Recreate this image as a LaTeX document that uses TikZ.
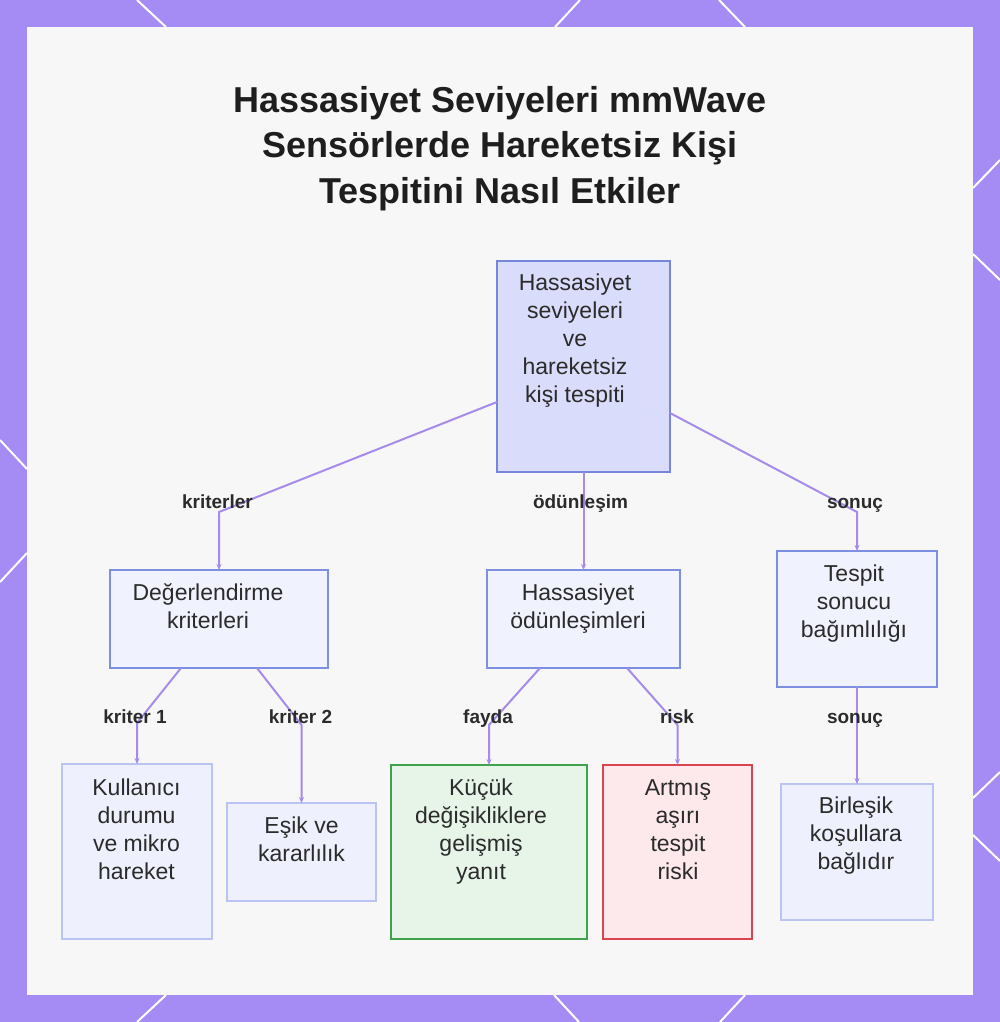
\documentclass[tikz,border=0pt]{standalone}
\usepackage{fontspec}
\setmainfont{Liberation Sans}
\usetikzlibrary{arrows.meta}
\definecolor{framec}{HTML}{A58CF5}
\definecolor{bgc}{HTML}{F7F7F8}
\definecolor{connc}{HTML}{A68BEA}
\definecolor{rootfill}{HTML}{D9DCFA}
\definecolor{rootdraw}{HTML}{7885DC}
\definecolor{midfill}{HTML}{F0F2FD}
\definecolor{middraw}{HTML}{7D8FE0}
\definecolor{leaffill}{HTML}{EEF1FD}
\definecolor{leafdraw}{HTML}{B9C4F3}
\definecolor{greenfill}{HTML}{E7F4E8}
\definecolor{greendraw}{HTML}{3FA34D}
\definecolor{pinkfill}{HTML}{FDE8EC}
\definecolor{pinkdraw}{HTML}{D84450}
\definecolor{txtc}{HTML}{2B2B2B}
\definecolor{titlec}{HTML}{1E1E1E}
\begin{document}
\begin{tikzpicture}[x=1pt,y=-1pt,
  boxbase/.style={rectangle, line width=2pt, inner sep=0pt, outer sep=0pt},
  rootbox/.style={boxbase, fill=rootfill, draw=rootdraw},
  midbox/.style={boxbase, fill=midfill, draw=middraw},
  leafbox/.style={boxbase, fill=leaffill, draw=leafdraw},
  greenbox/.style={boxbase, fill=greenfill, draw=greendraw},
  pinkbox/.style={boxbase, fill=pinkfill, draw=pinkdraw},
  txt/.style={anchor=north, inner sep=0pt, align=center, text=txtc, font=\fontsize{23}{28}\selectfont},
  elabel/.style={anchor=base, inner sep=0pt, text=txtc, font=\bfseries\fontsize{19}{22}\selectfont},
  conn/.style={draw=connc, line width=2pt, -{Stealth[length=6pt,width=5pt]}},
  deco/.style={draw=white, line width=2pt}]
\useasboundingbox (0,0) rectangle (1000,1022);
\fill[framec] (0,0) rectangle (1000,1022);
% white decorative lines on the frame
\draw[deco] (137,0) -- (166,27);
\draw[deco] (580,0) -- (555,27);
\draw[deco] (719,0) -- (745,27);
\draw[deco] (166,995) -- (137,1022);
\draw[deco] (554,995) -- (579,1022);
\draw[deco] (745,995) -- (720,1022);
\draw[deco] (0,440) -- (27,469);
\draw[deco] (27,553) -- (0,582);
\draw[deco] (1000,160) -- (973,188);
\draw[deco] (973,254) -- (1000,280);
\draw[deco] (1000,772) -- (973,798);
\draw[deco] (973,835) -- (1000,861);
\fill[bgc] (27,27) rectangle (973,995);

% title
\node[anchor=north, inner sep=0pt, align=center, text=titlec,
      font=\bfseries\fontsize{36}{45.5}\selectfont] (title) at (500,80.2)
  {\strut Hassasiyet Seviyeleri mmWave\\Sensörlerde Hareketsiz Kişi\\Tespitini Nasıl Etkiler};

% boxes
\node[rootbox, minimum width=173, minimum height=211] (root) at (583.5,366.5) {};
\node[midbox, minimum width=218, minimum height=98] (deg) at (219,619) {};
\node[midbox, minimum width=193, minimum height=98] (hod) at (583.5,619) {};
\node[midbox, minimum width=160, minimum height=136] (tsb) at (857,619) {};
\node[leafbox, minimum width=150, minimum height=175] (kul) at (137,851.5) {};
\node[leafbox, minimum width=149, minimum height=98] (esk) at (301.5,852) {};
\node[greenbox, minimum width=196, minimum height=174] (kuc) at (489,852) {};
\node[pinkbox, minimum width=149, minimum height=174] (art) at (677.5,852) {};
\node[leafbox, minimum width=152, minimum height=136] (bir) at (857,852) {};

% box texts (first baseline = y + 19.6)
\node[txt] (troot) at (575,270.4) {\strut Hassasiyet\\seviyeleri\\ve\\hareketsiz\\kişi tespiti};
\node[txt] (tdeg) at (208,580.4) {\strut Değerlendirme\\kriterleri};
\node[txt] (thod) at (578,580.4) {\strut Hassasiyet\\ödünleşimleri};
\node[txt] (ttsb) at (854,561.4) {\strut Tespit\\sonucu\\bağımlılığı};
\node[txt] (tkul) at (136.5,775.4) {\strut Kullanıcı\\durumu\\ve mikro\\hareket};
\node[txt] (tesk) at (301.5,813.4) {\strut Eşik ve\\kararlılık};
\node[txt] (tkuc) at (481,775.4) {\strut Küçük\\değişikliklere\\gelişmiş\\yanıt};
\node[txt] (tart) at (678,775.4) {\strut Artmış\\aşırı\\tespit\\riski};
\node[txt] (tbir) at (856,793.4) {\strut Birleşik\\koşullara\\bağlıdır};

% bend points
\coordinate (b1) at (219,512);
\coordinate (b3) at (857,512);
\coordinate (b4) at (137,723);
\coordinate (b5) at (301.5,725);
\coordinate (b6) at (489,725);
\coordinate (b7) at (677.5,725);

% connectors
\draw[conn] ([yshift=-35.5pt]root.west) -- (b1) -- (deg.north);
\draw[conn] (root.south) -- (hod.north);
\draw[conn] ([yshift=-46.5pt]root.east) -- (b3) -- (tsb.north);
\draw[conn] ([xshift=-38pt]deg.south) -- (b4) -- (kul.north);
\draw[conn] ([xshift=38pt]deg.south) -- (b5) -- (esk.north);
\draw[conn] ([xshift=-43.5pt]hod.south) -- (b6) -- (kuc.north);
\draw[conn] ([xshift=43.5pt]hod.south) -- (b7) -- (art.north);
\draw[conn] (tsb.south) -- (bir.north);

% edge labels
\node[elabel] (l1) at (217.5,508) {kriterler};
\node[elabel] (l2) at (580.5,508) {ödünleşim};
\node[elabel] (l3) at (855,508) {sonuç};
\node[elabel] (l4) at (135,723) {kriter 1};
\node[elabel] (l5) at (300.5,723) {kriter 2};
\node[elabel] (l6) at (488,723) {fayda};
\node[elabel] (l7) at (677,723) {risk};
\node[elabel] (l8) at (855,723) {sonuç};
\end{tikzpicture}
\end{document}
